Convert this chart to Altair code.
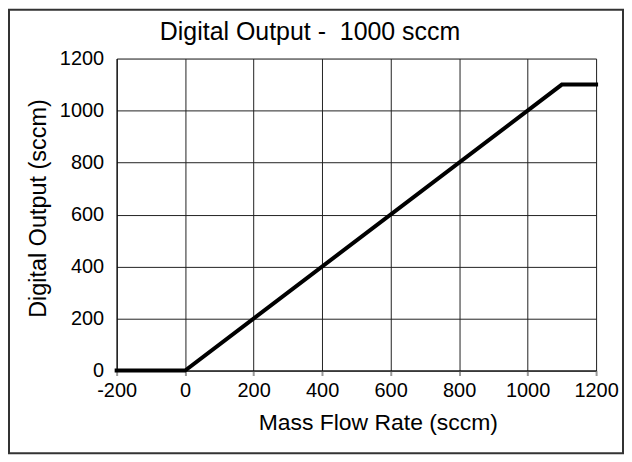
import altair as alt
import pandas as pd

flow = [-200, 0, 1100, 1200]
output = [0, 0, 1100, 1100]
x_ticks = [-200, 0, 200, 400, 600, 800, 1000, 1200]
y_ticks = [0, 200, 400, 600, 800, 1000, 1200]
chart_title = "Digital Output - \u00a01000 sccm"

df = pd.DataFrame({"flow": flow, "output": output})
FONT = "Liberation Sans"

line = alt.Chart(df).mark_line(color="black", strokeWidth=4, strokeCap="square", clip=False).encode(
    x=alt.X("flow:Q", scale=alt.Scale(domain=[-200, 1200], nice=False),
            axis=alt.Axis(values=x_ticks, title="Mass Flow Rate (sccm)", grid=True,
                          labelExpr="datum.value",
                          gridColor="#222", gridWidth=1, domainColor="black",
                          ticks=True, tickSize=5, tickColor="#999", tickWidth=2,
                          labelFontSize=20, labelFont=FONT, labelColor="black", labelPadding=5,
                          labelFlush=False, labelOverlap=False,
                          titleFontSize=23, titleFont=FONT, titleFontWeight="normal",
                          titleColor="black", titleX=262, titleY=41, titleBaseline="top")),
    y=alt.Y("output:Q", scale=alt.Scale(domain=[0, 1200], nice=False),
            axis=alt.Axis(values=y_ticks, title="Digital Output (sccm)", grid=True,
                          labelExpr="datum.value",
                          gridColor="#222", gridWidth=1, domainColor="black",
                          ticks=False, labelPadding=13,
                          labelFontSize=20, labelFont=FONT, labelColor="black",
                          labelFlush=False, labelOverlap=False,
                          titleFontSize=23.5, titleFont=FONT, titleFontWeight="normal",
                          titleColor="black", titleX=-66, titleY=150, titleBaseline="bottom")),
)

title = alt.Chart(pd.DataFrame({"t": [chart_title]})).mark_text(
    fontSize=25, font=FONT, color="black", align="center", baseline="alphabetic"
).encode(text="t:N", x=alt.value(194), y=alt.value(-19))

border = alt.Chart(pd.DataFrame({"a": [0]})).mark_rect(
    fill=None, stroke="#333", strokeWidth=2, clip=False
).encode(x=alt.value(-108), x2=alt.value(508), y=alt.value(-49), y2=alt.value(396))

chart = alt.layer(line, title, border).properties(
    width=481, height=313,
    padding=0,
).configure_view(stroke="black", strokeWidth=1.5).configure(background="white")

chart.save("out.html", embed_options={"renderer": "svg", "actions": False})
